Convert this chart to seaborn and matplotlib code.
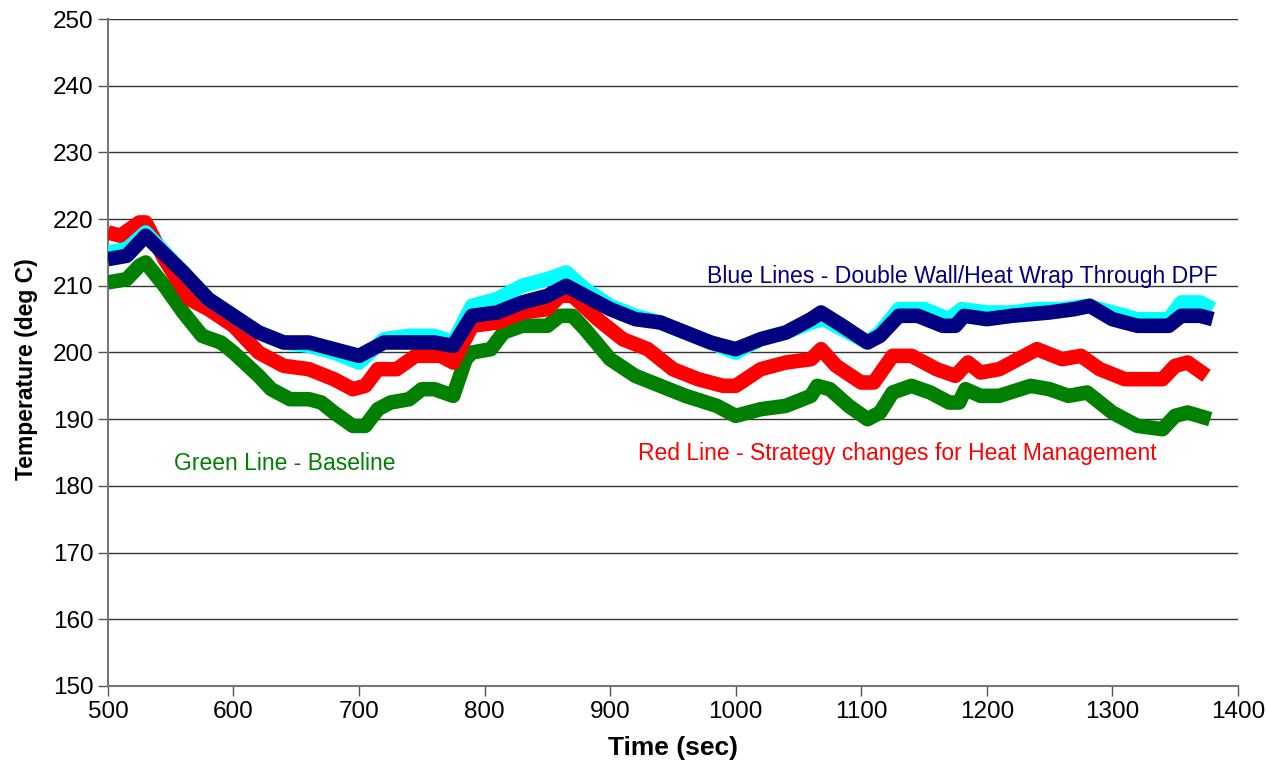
import matplotlib
matplotlib.use("Agg")
import matplotlib.pyplot as plt
import seaborn as sns
import pandas as pd

# Exhaust temperature traces (time in sec, temperature in deg C)
green_t = [500, 515, 525, 530, 545, 560, 575, 590, 600, 620, 630, 645, 660, 670, 680, 695, 705, 715, 725, 740,
           750, 760, 775, 785, 790, 805, 815, 830, 850, 860, 870, 880, 900, 920, 940, 960, 985, 1000, 1020, 1040,
           1060, 1065, 1075, 1090, 1105, 1115, 1125, 1140, 1155, 1170, 1178, 1183, 1195, 1210, 1235, 1250, 1265,
           1280, 1300, 1320, 1340, 1350, 1360, 1378]
green_v = [210.5, 211, 213, 213.5, 210, 206, 202.5, 201.5, 200, 196.5, 194.5, 193, 193, 192.5, 191, 189, 189,
           191.5, 192.5, 193, 194.5, 194.5, 193.5, 199, 200, 200.5, 203, 204, 204, 205.5, 205.5, 203.5, 199, 196.5,
           195, 193.5, 192, 190.5, 191.5, 192, 193.5, 195, 194.5, 192, 190, 191, 194, 195, 194, 192.5, 192.5, 194.5,
           193.5, 193.5, 195, 194.5, 193.5, 194, 191, 189, 188.5, 190.5, 191, 190]

red_t = [500, 510, 525, 530, 545, 565, 580, 600, 620, 640, 660, 680, 695, 705, 715, 730, 745, 765, 775, 790,
         810, 830, 850, 860, 870, 890, 910, 930, 950, 970, 990, 1000, 1020, 1040, 1060, 1068, 1080, 1100, 1110,
         1125, 1140, 1160, 1175, 1185, 1195, 1210, 1240, 1260, 1275, 1290, 1310, 1340, 1350, 1360, 1375]
red_v = [218, 217.5, 219.5, 219.5, 214, 208, 206.5, 204, 200, 198, 197.5, 196, 194.5, 195, 197.5, 197.5, 199.5,
         199.5, 198.5, 204, 204.5, 206, 206.5, 208.5, 208.5, 205, 202, 200.5, 197.5, 196, 195, 195, 197.5, 198.5,
         199, 200.5, 198, 195.5, 195.5, 199.5, 199.5, 197.5, 196.5, 198.5, 197, 197.5, 200.5, 199, 199.5, 197.5,
         196, 196, 198, 198.5, 196.5]

cyan_t = [500, 515, 530, 560, 580, 600, 620, 640, 660, 680, 700, 720, 740, 760, 775, 790, 810, 830, 850, 865,
          880, 900, 920, 940, 960, 980, 1000, 1020, 1040, 1060, 1070, 1090, 1105, 1115, 1130, 1150, 1170, 1180,
          1200, 1220, 1240, 1260, 1280, 1300, 1320, 1345, 1355, 1370, 1380]
cyan_v = [215, 215.5, 218, 212, 208, 205.5, 203, 201.5, 201, 200, 198.5, 202, 202.5, 202.5, 201.5, 207, 208, 210,
          211, 212, 209.5, 207, 205.5, 204.5, 203, 201.5, 200, 202, 203, 204.5, 205, 203, 201.5, 203, 206.5, 206.5,
          205, 206.5, 206, 206, 206.5, 206.5, 207, 206, 205, 205, 207.5, 207.5, 206.5]

navy_t = [500, 515, 530, 560, 580, 600, 620, 640, 660, 680, 700, 720, 740, 760, 775, 790, 810, 830, 850, 865,
          880, 900, 920, 940, 960, 980, 1000, 1020, 1040, 1060, 1068, 1085, 1105, 1115, 1130, 1145, 1165, 1175,
          1182, 1200, 1220, 1250, 1270, 1282, 1300, 1320, 1345, 1355, 1370, 1380]
navy_v = [214, 214.5, 217.5, 212, 208, 205.5, 203, 201.5, 201.5, 200.5, 199.5, 201.5, 201.5, 201.5, 201, 205.5,
          206, 207.5, 208.5, 210, 208.5, 206.5, 205, 204.5, 203, 201.5, 200.5, 202, 203, 205, 206, 204, 201.5,
          202.5, 205.5, 205.5, 204, 204, 205.5, 205, 205.5, 206, 206.5, 207, 205, 204, 204, 205.5, 205.5, 205]

x_ticks = list(range(500, 1401, 100))
y_ticks = list(range(150, 251, 10))

series = [("Baseline", green_t, green_v), ("Strategy", red_t, red_v),
          ("Wrap A", cyan_t, cyan_v), ("Wrap B", navy_t, navy_v)]
df = pd.concat([pd.DataFrame({"time": t, "temp": v, "run": name}) for name, t, v in series],
               ignore_index=True)
palette = {"Baseline": "#008000", "Strategy": "#FF0000", "Wrap A": "#00FFFF", "Wrap B": "#000080"}

sns.set_theme(style="white")
plt.rcParams["font.family"] = ["Liberation Sans", "DejaVu Sans"]

fig = plt.figure(figsize=(12.67, 7.76), dpi=100)
ax = fig.add_axes([0.0852, 0.116, 0.8918, 0.8595])

sns.lineplot(data=df, x="time", y="temp", hue="run", palette=palette, linewidth=10.5,
             sort=False, estimator=None, legend=False, ax=ax, zorder=3)
for line in ax.get_lines():
    line.set_solid_capstyle("butt")

ax.set_xlim(500, 1400)
ax.set_ylim(150, 250)
ax.set_xticks(x_ticks)
ax.set_yticks(y_ticks)
ax.tick_params(axis="both", labelsize=17.5, colors="black", length=7, width=1, direction="out",
               left=True, bottom=True)
ax.tick_params(axis="both", color="#555555")
ax.yaxis.grid(True, color="#333333", linewidth=1)
ax.xaxis.grid(False)
for side in ["top", "right"]:
    ax.spines[side].set_visible(False)
for side in ["left", "bottom"]:
    ax.spines[side].set_color("#777777")
    ax.spines[side].set_linewidth(1.5)

ax.set_xlabel("Time (sec)", fontsize=19, fontweight="bold", labelpad=10, color="black")
ax.set_ylabel("Temperature (deg C)", fontsize=16.5, fontweight="bold", color="black")
ax.yaxis.set_label_coords(-0.062, 0.475)

ax.text(977, 211.4, "Blue Lines - Double Wall/Heat Wrap Through DPF", color="#000080", fontsize=16.6,
        ha="left", va="center")
ax.text(922, 184.8, "Red Line - Strategy changes for Heat Management", color="#FF0000", fontsize=16.5,
        ha="left", va="center")
ax.text(553, 183.4, "Green Line - Baseline", color="#008000", fontsize=16.5, ha="left", va="center")

fig.savefig("out.png", dpi=100)
